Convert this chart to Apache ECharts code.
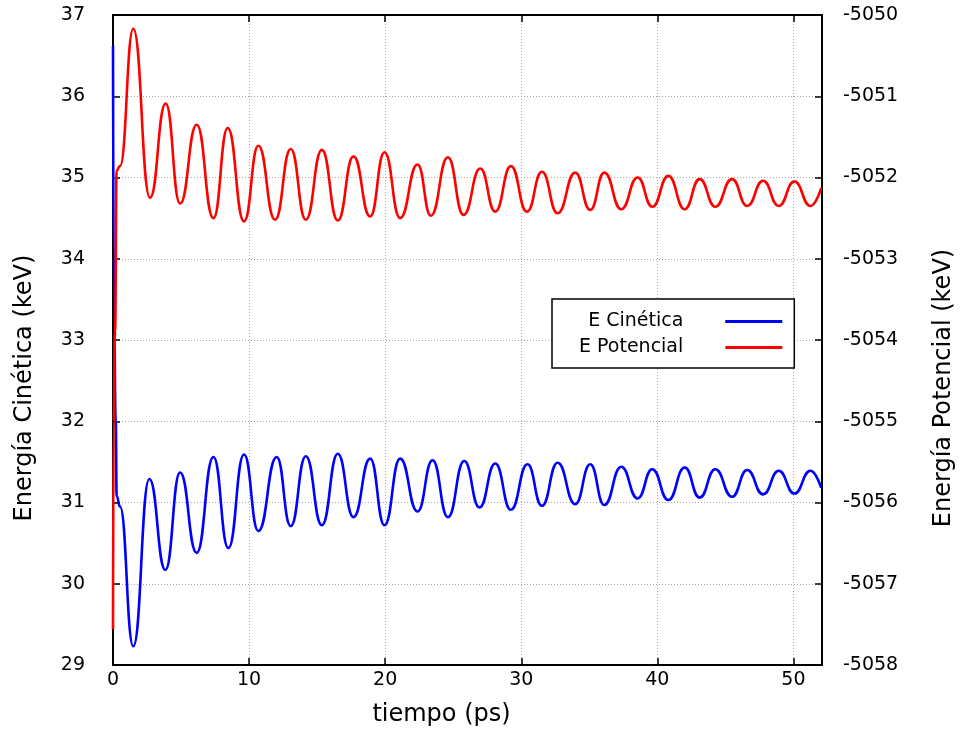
<!DOCTYPE html>
<html><head><meta charset="utf-8">
<script src="https://cdn.jsdelivr.net/npm/echarts@6/dist/echarts.min.js"></script>
<style>html,body{margin:0;padding:0;background:#fff}#c{width:960px;height:736px}</style>
</head><body><div id="c"></div>
<script>
const kinT = [0,0.05,0.2,0.27,0.51,1.49,2.67,3.85,4.93,6.15,7.38,8.48,9.63,10.68,12.03,13.06,14.17,15.35,16.52,17.67,18.90,19.95,21.10,22.38,23.48,24.61,25.81,26.93,28.09,29.24,30.46,31.52,32.67,33.97,35.07,36.10,37.35,38.55,39.63,40.81,42.01,43.11,44.26,45.49,46.60,47.77,48.92,50.07,51.25,52.04];
const kinV = [36.62,34.0,32.0,31.08,30.95,29.23,31.29,30.17,31.37,30.38,31.56,30.44,31.59,30.65,31.56,30.71,31.57,30.72,31.60,30.82,31.54,30.72,31.54,30.89,31.52,30.82,31.51,30.94,31.48,30.91,31.47,30.96,31.49,30.98,31.47,30.97,31.44,31.05,31.41,31.03,31.43,31.06,31.41,31.07,31.40,31.10,31.39,31.11,31.39,31.18];
const potT = [0,0.05,0.15,0.27,0.51,1.49,2.72,3.87,4.93,6.15,7.38,8.43,9.63,10.68,11.91,13.06,14.17,15.35,16.52,17.67,18.90,19.95,21.10,22.38,23.36,24.61,25.76,26.99,28.09,29.24,30.42,31.52,32.67,33.97,35.07,36.10,37.35,38.55,39.63,40.81,42.01,43.11,44.26,45.49,46.60,47.77,48.92,50.07,51.25,52.04];
const potV = [-5057.56,-5055.0,-5053.9,-5051.91,-5051.86,-5050.17,-5052.25,-5051.09,-5052.32,-5051.35,-5052.50,-5051.39,-5052.54,-5051.61,-5052.52,-5051.65,-5052.52,-5051.66,-5052.53,-5051.74,-5052.48,-5051.69,-5052.50,-5051.84,-5052.47,-5051.75,-5052.46,-5051.89,-5052.42,-5051.86,-5052.42,-5051.93,-5052.44,-5051.94,-5052.40,-5051.94,-5052.39,-5052.00,-5052.36,-5051.98,-5052.39,-5052.02,-5052.36,-5052.02,-5052.35,-5052.04,-5052.35,-5052.05,-5052.35,-5052.13];
const seriesNames = ['E Cinética', 'E Potencial'];
const xName = 'tiempo (ps)';
const yLeftName = 'Energía Cinética (keV)';
const yRightName = 'Energía Potencial (keV)';

const FONT = 'DejaVu Sans';
const kinData = kinT.map((t, i) => [t, kinV[i]]);
const potData = potT.map((t, i) => [t, potV[i]]);
const gridLine = {show: true, lineStyle: {color: '#a8a8a8', width: 1, type: [1, 2]}};
const axLine = {show: true, onZero: false, lineStyle: {color: '#000', width: 2}};
const tick = {show: true, inside: true, length: 7, lineStyle: {color: '#000', width: 1.5}};
const lbl = {color: '#000', fontFamily: FONT, fontSize: 19, formatter: v => String(v)};
const nameStyle = {fontFamily: FONT, fontSize: 24, color: '#000'};

const chart = echarts.init(document.getElementById('c'), null, {renderer: 'canvas'});
chart.setOption({
  animation: false,
  backgroundColor: '#fff',
  grid: {left: 113, right: 138, top: 15, bottom: 71, containLabel: false, outerBoundsMode: 'none'},
  legend: {
    left: 552, top: 299, orient: 'vertical', align: 'right', icon: 'rect',
    backgroundColor: '#fff', borderColor: '#000', borderWidth: 1.5,
    padding: [13, 12, 11, 27], itemWidth: 57, itemHeight: 3, itemGap: 7,
    textStyle: {fontFamily: FONT, fontSize: 19, color: '#000', padding: [0, 37, 0, 0]},
    data: seriesNames
  },
  xAxis: [{
    type: 'value', min: 0, max: 52.1, interval: 10, position: 'bottom',
    name: xName, nameLocation: 'middle', nameGap: 38,
    nameTextStyle: Object.assign({}, nameStyle, {padding: [0, 52, 0, 0]}),
    axisLine: axLine, axisTick: tick, splitLine: gridLine,
    axisLabel: Object.assign({}, lbl, {margin: 6, showMaxLabel: false})
  }, {
    type: 'value', min: 0, max: 52.1, interval: 10, position: 'top',
    axisLine: axLine, axisTick: tick, splitLine: {show: false},
    axisLabel: {show: false}
  }],
  yAxis: [{
    type: 'value', min: 29, max: 37, interval: 1, position: 'left',
    name: yLeftName, nameLocation: 'middle', nameGap: 76,
    nameTextStyle: Object.assign({}, nameStyle, {padding: [0, 96, 0, 0]}),
    axisLine: axLine, axisTick: tick, splitLine: gridLine,
    axisLabel: Object.assign({}, lbl, {margin: 28})
  }, {
    type: 'value', min: -5058, max: -5050, interval: 1, position: 'right',
    name: yRightName, nameLocation: 'middle', nameGap: 110,
    nameTextStyle: Object.assign({}, nameStyle, {padding: [0, 96, 0, 0]}),
    axisLine: axLine, axisTick: tick, splitLine: {show: false},
    axisLabel: Object.assign({}, lbl, {margin: 21})
  }],
  series: [{
    name: seriesNames[0], type: 'line', xAxisIndex: 0, yAxisIndex: 0,
    data: kinData, symbol: 'none', smooth: 0.5, smoothMonotone: 'x',
    lineStyle: {color: '#0000ff', width: 2.6}, itemStyle: {color: '#0000ff'}, z: 3
  }, {
    name: seriesNames[1], type: 'line', xAxisIndex: 0, yAxisIndex: 1,
    data: potData, symbol: 'none', smooth: 0.5, smoothMonotone: 'x',
    lineStyle: {color: '#ff0000', width: 2.6}, itemStyle: {color: '#ff0000'}, z: 4
  }]
});
</script>
</body></html>
